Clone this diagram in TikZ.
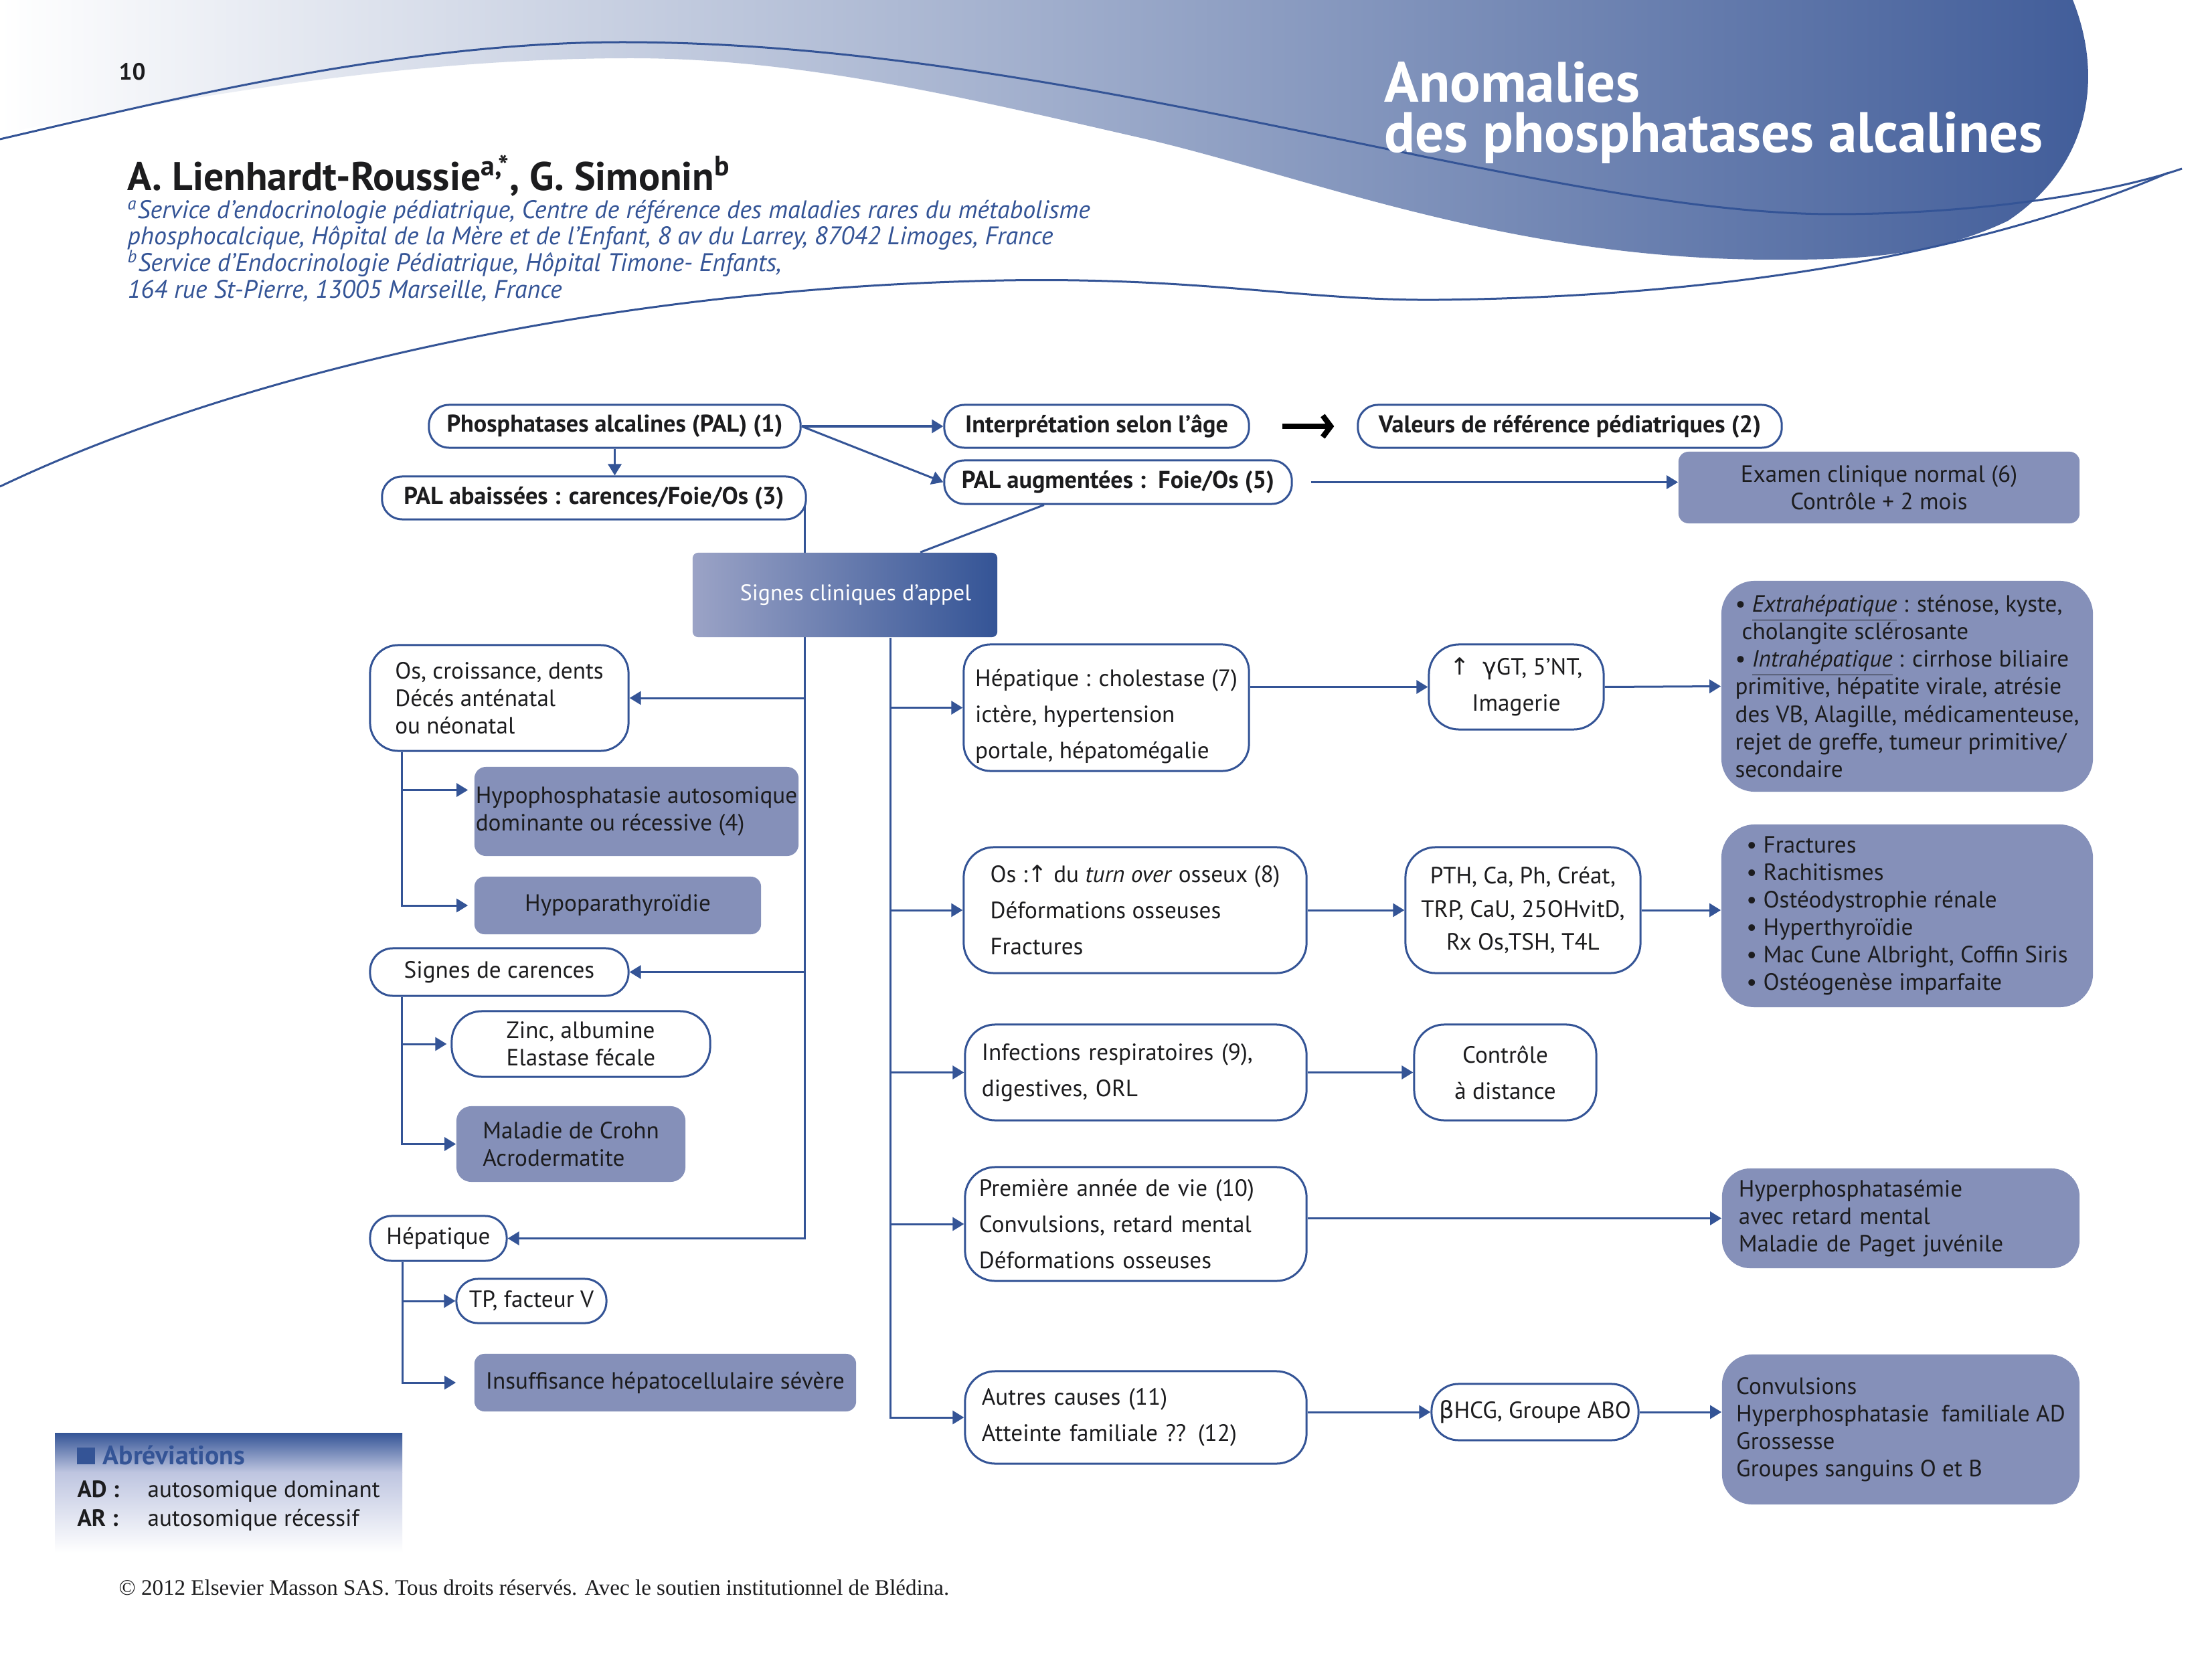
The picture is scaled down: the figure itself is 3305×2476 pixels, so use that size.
\documentclass[tikz,border=0pt]{standalone}
\usepackage{fontspec}
\setmainfont{PT Sans}
\newfontfamily\symf{DejaVu Sans}
\newfontfamily\serf{Liberation Serif}
\usetikzlibrary{arrows.meta}
\definecolor{lb}{RGB}{52,84,150}
\definecolor{bf}{RGB}{133,144,185}
\definecolor{tx}{RGB}{28,28,30}
\definecolor{hm}{RGB}{147,158,196}
\definecolor{hr}{RGB}{64,92,153}
\definecolor{sgl}{RGB}{155,163,198}
\definecolor{sgm}{RGB}{86,111,169}
\definecolor{ab}{RGB}{190,197,224}
\pgfdeclarelayer{bg}
\pgfsetlayers{bg,main}
\begin{document}
\begin{tikzpicture}[x=0.01cm,y=-0.01cm,
  ln/.style={draw=lb, line width=0.03cm},
  arr/.style={ln, -{Triangle[length=0.17cm,width=0.2cm]}},
  sz/.style 2 args={minimum width=#1cm, minimum height=#2cm},
  fbold/.style={font=\bfseries\fontsize{10.3}{12}\selectfont},
  ftight/.style={font=\fontsize{10}{11.7}\selectfont},
  floose/.style={font=\fontsize{10}{15.4}\selectfont},
  fmid/.style={font=\fontsize{10}{14}\selectfont},
  wbox/.style={draw=lb, line width=0.03cm, fill=white, inner sep=0pt, text=tx, font=\fontsize{10}{12}\selectfont},
  pbox/.style={fill=bf, inner sep=0pt, text=tx, font=\fontsize{10}{12}\selectfont},
  hdtext/.style={anchor=base west, inner sep=0pt}
]
\useasboundingbox (0,0) rectangle (3305,2476);
\begin{pgfonlayer}{bg}
\fill[white] (0,0) rectangle (3305,2476);
\end{pgfonlayer}

% ---------- header ----------
\shade[left color=white, middle color=hm, right color=hr]
  (0,0) -- (3097,0) .. controls (3145,120) and (3120,250) .. (3000,330)
  .. controls (2880,388) and (2750,388) .. (2650,388)
  .. controls (2250,388) and (1950,262) .. (1700,205)
  .. controls (1450,148) and (1200,87) .. (943,87)
  .. controls (650,87) and (350,130) .. (0,200) -- cycle;
\draw[lb, line width=0.03cm] (0,208) .. controls (250,150) and (600,63) .. (930,63)
  .. controls (1600,63) and (2300,320) .. (2740,320)
  .. controls (2950,320) and (3150,290) .. (3260,252);
\draw[lb, line width=0.03cm] (0,727) .. controls (350,560) and (900,430) .. (1500,419)
  .. controls (1800,414) and (1950,450) .. (2150,448)
  .. controls (2700,442) and (3050,340) .. (3240,258);

\node[hdtext, text=white, font=\bfseries\fontsize{24.2}{28}\selectfont] (t1) at (2068,153) {Anomalies};
\node[hdtext, text=white, font=\bfseries\fontsize{24.2}{28}\selectfont] (t2) at (2068,228) {des phosphatases alcalines};
\node[hdtext, text=tx, font=\bfseries\fontsize{10}{12}\selectfont] (pnum) at (177,120) {10};
\node[hdtext, text=tx, text depth=0pt, font=\bfseries\fontsize{17}{20}\selectfont] (auth) at (190,285)
  {A. Lienhardt-Roussie\textsuperscript{a,*}, G. Simonin\textsuperscript{b}};
\node[hdtext, text=lb, font=\itshape\fontsize{10.8}{12}\selectfont] (aff1) at (190,327)
  {\textsuperscript{a}Service d’endocrinologie pédiatrique, Centre de référence des maladies rares du métabolisme};
\node[hdtext, text=lb, font=\itshape\fontsize{10.8}{12}\selectfont] (aff2) at (190,366)
  {phosphocalcique, Hôpital de la Mère et de l’Enfant, 8 av du Larrey, 87042 Limoges, France};
\node[hdtext, text=lb, font=\itshape\fontsize{10.8}{12}\selectfont] (aff3) at (190,406)
  {\textsuperscript{b}Service d’Endocrinologie Pédiatrique, Hôpital Timone- Enfants,};
\node[hdtext, text=lb, font=\itshape\fontsize{10.8}{12}\selectfont] (aff4) at (190,446)
  {164 rue St-Pierre, 13005 Marseille, France};

% ---------- top row ----------
\node[wbox, fbold, rounded corners=0.3cm, sz={5.55}{0.64}] (pal) at (918.5,637) {Phosphatases alcalines (PAL) (1)};
\node[wbox, fbold, rounded corners=0.3cm, sz={4.55}{0.64}] (interp) at (1638.5,637) {Interprétation selon l’âge};
\node[wbox, fbold, rounded corners=0.3cm, sz={6.33}{0.64}] (valeurs) at (2345.5,637) {Valeurs de référence pédiatriques (2)};
\node[wbox, fbold, rounded corners=0.3cm, sz={6.33}{0.64}] (abais) at (887.5,744) {PAL abaissées : carences/Foie/Os (3)};
\node[wbox, fbold, rounded corners=0.3cm, sz={5.19}{0.65}] (aug) at (1670.5,720.5) {PAL augmentées :\ \ Foie/Os (5)};
\node[pbox, ftight, align=center, rounded corners=0.15cm, sz={5.99}{1.07}] (exam) at (2807.5,728.5) {Examen clinique normal (6)\\Contrôle + 2 mois};
\node[inner sep=0pt, left color=sgl, middle color=sgm, right color=lb, text=white, font=\fontsize{9.6}{12}\selectfont,
      rounded corners=0.08cm, sz={4.55}{1.26}] (signes) at (1262.5,889) {\hspace*{0.32cm}Signes cliniques d'appel};

% ---------- left column ----------
\node[wbox, ftight, align=left, rounded corners=0.42cm, sz={3.86}{1.58}] (os) at (746,1043) {Os, croissance, dents\\Décés anténatal\\ou néonatal};
\node[pbox, ftight, align=left, rounded corners=0.17cm, sz={4.84}{1.33}] (hypophos) at (951,1212.5) {Hypophosphatasie autosomique\\dominante ou récessive (4)};
\node[pbox, align=center, rounded corners=0.15cm, sz={4.28}{0.86}] (hypopara) at (923,1353) {Hypoparathyroïdie};
\node[wbox, rounded corners=0.34cm, sz={3.86}{0.71}] (carences) at (746,1452.5) {Signes de carences};
\node[wbox, ftight, align=left, rounded corners=0.45cm, sz={3.86}{0.98}] (zinc) at (868,1560) {Zinc, albumine\\Elastase fécale};
\node[pbox, ftight, align=left, rounded corners=0.22cm, sz={3.42}{1.13}] (crohn) at (853,1709.5) {Maladie de Crohn\\Acrodermatite};
\node[wbox, rounded corners=0.32cm, sz={2.04}{0.67}] (hepL) at (655,1850.5) {Hépatique};
\node[wbox, rounded corners=0.32cm, sz={2.24}{0.66}] (tp) at (794,1944) {TP, facteur V};
\node[pbox, rounded corners=0.15cm, sz={5.70}{0.86}] (insuff) at (994,2066) {Insuffisance hépatocellulaire sévère};

% ---------- right column ----------
\node[wbox, floose, align=left, rounded corners=0.4cm, sz={4.26}{1.89}] (hep7) at (1653,1057.5)
  {\rule{0pt}{0.52cm}Hépatique : cholestase (7)\\ictère, hypertension\\portale, hépatomégalie};
\node[wbox, floose, align=center, rounded corners=0.45cm, sz={2.61}{1.27}] (ggt) at (2265.5,1026.5)
  {{\symf ↑}\ \ {\symf γ}GT, 5’NT,\\Imagerie};
\node[pbox, ftight, align=left, rounded corners=0.5cm, sz={5.55}{3.15}] (extra) at (2849.5,1025.5)
  {• \underline{\textit{Extrahépatique}} : sténose, kyste,\\\hspace*{0.1cm}cholangite sclérosante\\• \underline{\textit{Intrahépatique}} : cirrhose biliaire\\primitive, hépatite virale, atrésie\\des VB, Alagille, médicamenteuse,\\rejet de greffe, tumeur primitive/\\secondaire};
\node[wbox, floose, align=left, rounded corners=0.45cm, sz={5.12}{1.88}] (os8) at (1696,1360)
  {Os :{\symf ↑} du \textit{turn over} osseux (8)\\Déformations osseuses\\Fractures};
\node[wbox, fmid, align=center, rounded corners=0.45cm, sz={3.51}{1.88}] (pth) at (2275.5,1360)
  {PTH, Ca, Ph, Créat,\\TRP, CaU, 25OHvitD,\\Rx Os,TSH, T4L};
\node[pbox, ftight, align=left, rounded corners=0.5cm, sz={5.55}{2.73}] (frac) at (2849.5,1368.5)
  {• Fractures\\• Rachitismes\\• Ostéodystrophie rénale\\• Hyperthyroïdie\\• Mac Cune Albright, Coffin Siris\\• Ostéogenèse imparfaite};
\node[wbox, floose, align=left, text width=4.60cm, inner xsep=0.25cm, rounded corners=0.45cm, sz={5.10}{1.43}] (inf) at (1697,1602.5)
  {Infections respiratoires (9),\\digestives, ORL};
\node[wbox, floose, align=center, rounded corners=0.45cm, sz={2.72}{1.43}] (ctrl) at (2249,1602.5) {Contrôle\\à distance};
\node[wbox, floose, align=left, text width=4.68cm, inner xsep=0.21cm, rounded corners=0.45cm, sz={5.10}{1.70}] (prem) at (1697,1829)
  {Première année de vie (10)\\Convulsions, retard mental\\Déformations osseuses};
\node[pbox, ftight, align=left, text width=4.84cm, inner xsep=0.25cm, rounded corners=0.42cm, sz={5.34}{1.49}] (hyper) at (2840,1820.5)
  {Hyperphosphatasémie\\avec retard mental\\Maladie de Paget juvénile};
\node[wbox, floose, align=left, text width=4.60cm, inner xsep=0.25cm, rounded corners=0.45cm, sz={5.10}{1.38}] (autres) at (1697,2118)
  {Autres causes (11)\\Atteinte familiale ?? (12)};
\node[wbox, rounded corners=0.4cm, sz={3.09}{0.84}] (bhcg) at (2293.5,2110) {{\symf β}HCG, Groupe ABO};
\node[pbox, ftight, align=left, rounded corners=0.45cm, sz={5.34}{2.24}] (conv) at (2840,2136)
  {Convulsions\\Hyperphosphatasie\ \ familiale AD\\Grossesse\\Groupes sanguins O et B};

% ---------- connectors ----------
\coordinate (LT) at ([xshift=-0.03cm]abais.east);
\coordinate (OF) at ([xshift=0.49cm]os.south west);
\coordinate (CF) at ([xshift=0.49cm]carences.south west);
\coordinate (HF) at ([xshift=0.50cm]hepL.south west);
\coordinate (RT) at ([xshift=0.675cm]signes.south);
\coordinate (HPa) at ([yshift=0.32cm]hypophos.west);
\coordinate (A1) at ([xshift=-1.105cm]aug.south);
\coordinate (S1) at ([xshift=1.125cm]signes.north);

\begin{pgfonlayer}{bg}
\draw[arr] (pal.east) -- (interp.west);
\draw[arr] (pal.east) -- (aug.west);
\draw[arr] (pal.south) -- (pal.south |- abais.north);
\draw[arr, shorten <=0.27cm] (aug.east) -- (aug.east -| exam.west);
\draw[ln] (A1) -- (S1);
% left trunk
\draw[arr] (LT) |- (hepL.east);
\draw[arr] (LT |- os.east) -- (os.east);
\draw[arr] (LT |- carences.east) -- (carences.east);
\draw[arr, shorten >=0.09cm] (OF) |- (hypopara.west);
\draw[arr, shorten >=0.09cm] (OF |- HPa) -- (HPa);
\draw[arr] (CF) |- (crohn.west);
\draw[arr, shorten >=0.06cm] (CF |- zinc.west) -- (zinc.west);
\draw[arr, shorten >=0.27cm] (HF) |- (insuff.west);
\draw[arr] (HF |- tp.west) -- (tp.west);
% right trunk
\draw[arr] (RT) |- (autres.west);
\draw[arr] (RT |- hep7.west) -- (hep7.west);
\draw[arr] (RT |- os8.west) -- (os8.west);
\draw[arr] (RT |- inf.west) -- (inf.west);
\draw[arr] (RT |- prem.west) -- (prem.west);
\draw[arr] (hep7.east |- ggt.west) -- (ggt.west);
\draw[arr] (ggt.east) -- (extra.west);
\draw[arr] (os8.east) -- (pth.west);
\draw[arr] (pth.east) -- (pth.east -| frac.west);
\draw[arr] (inf.east) -- (inf.east -| ctrl.west);
\draw[arr] (prem.east |- hyper.west) -- (hyper.west);
\draw[arr] (autres.east |- bhcg.west) -- (bhcg.west);
\draw[arr] (bhcg.east) -- (bhcg.east -| conv.west);
\end{pgfonlayer}
\draw[line width=0.08cm, black, -{Straight Barb[length=0.12cm,width=0.32cm]}] ([xshift=0.48cm]interp.east) -- ([xshift=-0.34cm]valeurs.west);

% ---------- abbreviations ----------
\shade[top color=lb, bottom color=ab] (82,2141) rectangle (601,2200);
\shade[top color=ab, bottom color=white] (82,2200) rectangle (601,2320);
\fill[lb] (115,2163) rectangle (142,2188);
\node[hdtext, text=lb, font=\bfseries\fontsize{11.3}{13}\selectfont] (abrT) at (153,2188) {Abréviations};
\node[hdtext, text=tx, font=\bfseries\fontsize{10}{12}\selectfont] (ad) at (115,2237) {AD :};
\node[hdtext, text=tx, font=\fontsize{10}{12}\selectfont] (adt) at (220,2237) {autosomique dominant};
\node[hdtext, text=tx, font=\bfseries\fontsize{10}{12}\selectfont] (ar) at (115,2280) {AR :};
\node[hdtext, text=tx, font=\fontsize{10}{12}\selectfont] (art) at (220,2280) {autosomique récessif};

\node[hdtext, text=tx, font=\serf\fontsize{9.4}{11}\selectfont] (copy) at (177,2383)
  {© 2012 Elsevier Masson SAS. Tous droits réservés. Avec le soutien institutionnel de Blédina.};
\end{tikzpicture}
\end{document}
